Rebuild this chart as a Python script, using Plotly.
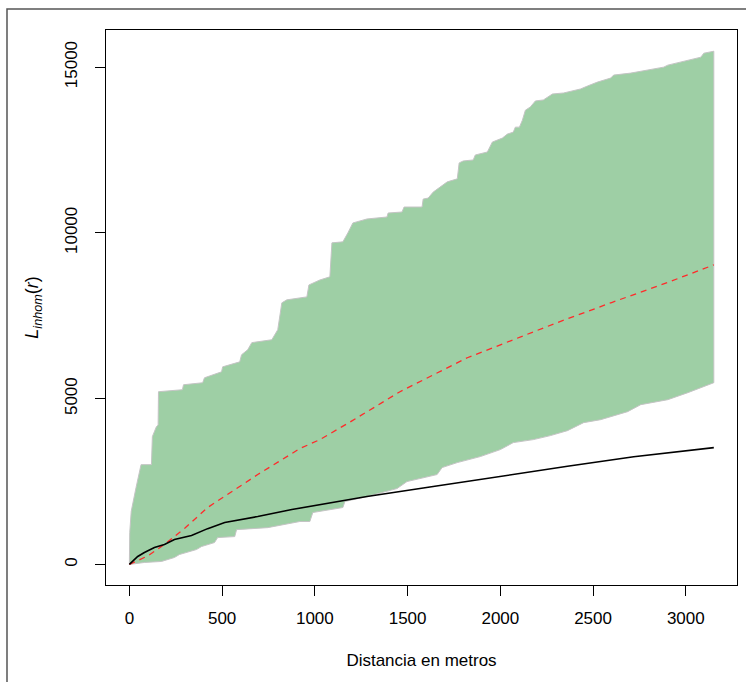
import plotly.graph_objects as go

# Upper envelope (simulation max)
upper_r = [0, 2, 10, 20, 36, 63, 119, 124, 146, 155, 157, 286, 292, 395, 405, 497, 503, 595, 605, 638, 660,
           768, 800, 822, 849, 957, 968, 1027, 1081, 1092, 1151, 1178, 1205, 1281, 1389, 1395, 1470, 1481,
           1578, 1584, 1611, 1638, 1714, 1768, 1778, 1800, 1854, 1865, 1930, 1957, 2011, 2038, 2070, 2081,
           2103, 2119, 2135, 2162, 2189, 2232, 2254, 2281, 2341, 2432, 2470, 2524, 2595, 2611, 2703, 2795,
           2881, 2903, 3011, 3081, 3097, 3151]
upper_L = [0, 964, 1600, 1900, 2320, 3010, 3010, 3855, 4157, 4200, 5210, 5270, 5420, 5480, 5630, 5810, 5960,
           6110, 6325, 6475, 6690, 6777, 7080, 7890, 7980, 8070, 8430, 8580, 8675, 9700, 9730, 10000, 10300,
           10420, 10480, 10600, 10630, 10780, 10780, 11020, 11050, 11230, 11540, 11630, 12110, 12170, 12200,
           12350, 12440, 12740, 12860, 12980, 13040, 13190, 13190, 13400, 13700, 13800, 13980, 14010, 14100,
           14190, 14220, 14340, 14430, 14550, 14670, 14760, 14820, 14910, 15000, 15060, 15210, 15300, 15420,
           15480]

# Lower envelope (simulation min)
lower_r = [0, 81, 173, 243, 270, 362, 389, 459, 476, 568, 578, 746, 919, 973, 989, 1151, 1162, 1281, 1443,
           1497, 1659, 1686, 1768, 1892, 2000, 2070, 2178, 2270, 2362, 2449, 2541, 2686, 2757, 2903, 3011,
           3097, 3151]
lower_L = [0, 60, 90, 210, 300, 450, 540, 660, 810, 840, 1050, 1110, 1295, 1295, 1566, 1717, 1898, 2048,
           2289, 2500, 2711, 2922, 3072, 3253, 3464, 3675, 3765, 3886, 4036, 4277, 4367, 4608, 4819, 4970,
           5181, 5361, 5482]

# Observed L_inhom
obs_r = [0, 45, 81, 135, 189, 243, 335, 422, 514, 692, 876, 1054, 1281, 1638, 2000, 2270, 2362, 2719, 3011, 3151]
obs_L = [0, 240, 360, 510, 600, 750, 870, 1080, 1265, 1446, 1657, 1837, 2048, 2349, 2665, 2891, 2960, 3250, 3440, 3524]

# Theoretical L_inhom
theo_r = [0, 100, 189, 300, 422, 500, 692, 919, 1027, 1200, 1459, 1822, 2000, 2300, 2600, 2900, 3151]
theo_L = [0, 260, 602, 1100, 1717, 2000, 2711, 3494, 3765, 4330, 5210, 6235, 6626, 7280, 7900, 8500, 9036]

x_ticks = [0, 500, 1000, 1500, 2000, 2500, 3000]
y_ticks = [0, 5000, 10000, 15000]

fig = go.Figure()

fig.add_trace(go.Scatter(
    x=upper_r + lower_r[::-1], y=upper_L + lower_L[::-1],
    fill="toself", fillcolor="#9ecfa5", mode="lines",
    line=dict(color="#c4c4c4", width=1), hoverinfo="skip", showlegend=False))

fig.add_trace(go.Scatter(x=theo_r, y=theo_L, mode="lines",
                         line=dict(color="#ff2a2a", width=1.3, dash="6px,5px"), showlegend=False))
fig.add_trace(go.Scatter(x=obs_r, y=obs_L, mode="lines",
                         line=dict(color="black", width=1.6), showlegend=False))

font = dict(family="Liberation Sans, Arial, sans-serif", size=17, color="black")
title_font = dict(family="Liberation Sans, Arial, sans-serif", size=18, color="black")

fig.update_layout(
    width=746, height=682,
    margin=dict(l=106, r=9, t=30, b=97),
    paper_bgcolor="white", plot_bgcolor="white",
    font=font,
    xaxis=dict(range=[-126, 3276], tickvals=x_ticks, ticktext=[str(v) for v in x_ticks],
               showgrid=False, zeroline=False, showline=True, mirror=True, linecolor="black", linewidth=1,
               ticks="outside", ticklen=10, tickcolor="black", tickwidth=1, ticklabelstandoff=8,
               title=dict(text="Distancia en metros", standoff=26, font=font)),
    yaxis=dict(range=[-620, 16120], tickvals=y_ticks, ticktext=[str(v) for v in y_ticks],
               tickangle=-90, ticklabelstandoff=11,
               showgrid=False, zeroline=False, showline=True, mirror=True, linecolor="black", linewidth=1,
               ticks="outside", ticklen=10, tickcolor="black", tickwidth=1,
               title=dict(text="<i>L</i><sub><i>inhom</i></sub>(<i>r</i>)", standoff=18, font=title_font)),
    shapes=[dict(type="rect", xref="paper", yref="paper",
                 x0=-0.1569, x1=1.2, y0=-0.3, y1=1.0378,
                 line=dict(color="#555555", width=1.5), fillcolor="rgba(0,0,0,0)", layer="below")],
)

fig.write_html("out.html")
